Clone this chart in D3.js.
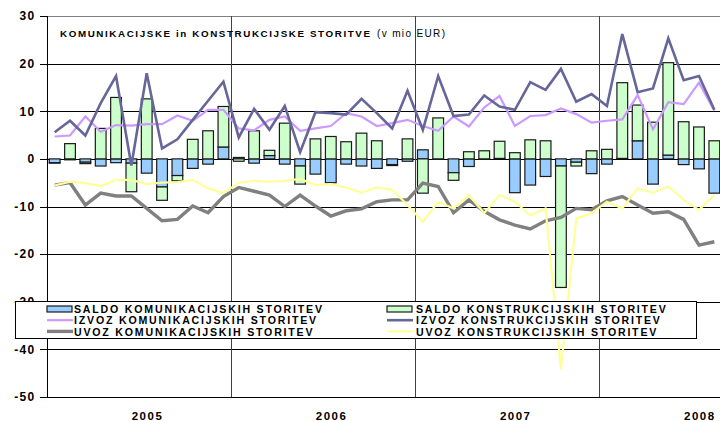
<!DOCTYPE html>
<html>
<head>
<meta charset="utf-8">
<script src="https://cdn.jsdelivr.net/npm/d3@7"></script>
<style>
  body { margin: 0; background: #fff; }
  svg { display: block; font-family: "Liberation Sans", Arial, sans-serif; }
</style>
</head>
<body>
<svg width="720" height="421"></svg>
<script>
var months = [
  "2005-01","2005-02","2005-03","2005-04","2005-05","2005-06","2005-07","2005-08","2005-09","2005-10","2005-11","2005-12",
  "2006-01","2006-02","2006-03","2006-04","2006-05","2006-06","2006-07","2006-08","2006-09","2006-10","2006-11","2006-12",
  "2007-01","2007-02","2007-03","2007-04","2007-05","2007-06","2007-07","2007-08","2007-09","2007-10","2007-11","2007-12",
  "2008-01","2008-02","2008-03","2008-04","2008-05","2008-06","2008-07","2008-08"
];
var years = ["2005", "2006", "2007", "2008"];
var yTicks = [30, 20, 10, 0, -10, -20, -30, -40, -50];

// saldo (bars)
var saldoKom = [-0.8, -0.2, -0.7, -1.5, -0.8, -0.9, -3.0, -5.9, -3.5, -2.0, -1.1, 2.5,
  0.3, -0.9, 0.7, -1.1, -1.5, -3.2, -5.0, -1.1, -1.5, -2.0, -1.2, -0.5,
  1.9, -0.1, -2.9, -1.6, -0.1, 0.1, -7.1, -5.5, -3.7, -1.5, -0.7, -3.1,
  -1.1, 0.1, 3.8, -5.3, 0.8, -1.2, -2.1, -7.2];
var saldoKonst = [-0.1, 3.2, -0.3, 6.4, 12.9, -6.0, 12.6, -2.8, -1.1, 4.1, 5.9, 8.5,
  -0.5, 5.9, 1.1, 7.5, -3.8, 4.2, 4.7, 3.6, 5.4, 3.8, -0.2, 4.2,
  -7.2, 8.6, -1.6, 1.5, 1.7, 3.6, 1.3, 4.0, 3.8, -25.5, -0.8, 1.7,
  2.0, 15.9, 7.5, 7.7, 19.4, 7.8, 6.7, 3.8];

// izvoz / uvoz (lines)
var izvozKom = [4.7, 4.9, 8.9, 5.7, 7.1, 7.0, 7.3, 7.3, 9.1, 8.0, 10.3, 10.3,
  6.4, 6.0, 8.2, 8.9, 5.9, 6.4, 6.9, 9.6, 8.9, 6.9, 7.5, 8.2,
  6.9, 5.9, 8.9, 6.8, 10.8, 13.2, 6.9, 9.0, 9.2, 10.6, 9.4, 7.6,
  8.0, 8.3, 13.4, 6.2, 11.9, 11.5, 16.0, 10.1];
var izvozKonst = [5.6, 8.0, 4.9, 11.7, 17.4, -1.4, 18.0, 2.2, 4.1, 8.2, 12.2, 16.2,
  4.5, 10.5, 6.1, 11.1, 1.4, 9.8, 9.6, 9.3, 12.6, 9.6, 6.4, 14.3,
  6.1, 17.4, 9.0, 9.3, 13.3, 11.0, 10.3, 16.1, 14.5, 18.9, 12.0, 13.6,
  11.1, 26.2, 14.0, 14.8, 25.3, 16.5, 17.4, 10.3];
var uvozKom = [-5.5, -5.0, -9.7, -7.2, -7.8, -7.8, -10.4, -13.0, -12.7, -9.9, -11.3, -7.9,
  -6.0, -6.8, -7.6, -10.0, -7.6, -9.9, -12.0, -10.9, -10.5, -9.0, -8.6, -8.6,
  -5.1, -5.8, -11.3, -8.6, -11.0, -12.8, -13.9, -14.7, -13.0, -12.3, -10.4, -10.7,
  -8.8, -7.9, -9.7, -11.4, -11.1, -12.7, -18.1, -17.4];
var uvozKonst = [-5.6, -4.8, -5.1, -5.7, -4.4, -4.4, -5.3, -5.0, -4.9, -4.4, -6.2, -7.2,
  -5.0, -4.6, -4.8, -4.6, -4.2, -5.5, -5.3, -6.0, -7.1, -6.0, -6.5, -9.7,
  -13.2, -9.0, -10.4, -7.6, -11.4, -7.6, -9.0, -11.9, -10.4, -44.2, -12.5, -11.4,
  -9.0, -10.4, -6.2, -7.1, -5.8, -8.6, -10.7, -7.6];

var svg = d3.select("svg"),
    plotLeft = 47, plotRight = 722, plotTop = 16, plotBottom = 397;

var x = d3.scaleBand()
    .domain(months)
    .range([plotLeft, plotRight])
    .paddingInner(0.3)
    .paddingOuter(0.15);

var y = d3.scaleLinear()
    .domain([-50, 30])
    .range([plotBottom, plotTop]);

var rows = months.map(function(m, i) {
    return {month: m, kom: saldoKom[i], konst: saldoKonst[i]};
});
var stacked = d3.stack()
    .keys(["kom", "konst"])
    .offset(d3.stackOffsetDiverging)(rows);

var barColors = {kom: "#99ccff", konst: "#ccffcc"};

// horizontal gridlines
svg.append("g")
    .selectAll("line")
    .data(yTicks.filter(function(d) { return d !== 30; }))
    .enter().append("line")
    .attr("x1", plotLeft)
    .attr("x2", 720)
    .attr("y1", function(d) { return Math.round(y(d)) + 0.5; })
    .attr("y2", function(d) { return Math.round(y(d)) + 0.5; })
    .attr("stroke", "#000")
    .attr("stroke-width", 1);

// top border
svg.append("line")
    .attr("x1", plotLeft).attr("x2", 720)
    .attr("y1", Math.round(y(30)) + 0.5).attr("y2", Math.round(y(30)) + 0.5)
    .attr("stroke", "#808080");

// year separators
svg.append("g")
    .selectAll("line")
    .data([12, 24, 36])
    .enter().append("line")
    .attr("x1", function(d) { return Math.round(x(months[d]) - x.step() * 0.15) + 0.5; })
    .attr("x2", function(d) { return Math.round(x(months[d]) - x.step() * 0.15) + 0.5; })
    .attr("y1", y(30))
    .attr("y2", y(-50))
    .attr("stroke", "#404040");

// bars
svg.append("g")
    .selectAll("g")
    .data(stacked)
    .enter().append("g")
    .attr("fill", function(d) { return barColors[d.key]; })
    .selectAll("rect")
    .data(function(d) { return d; })
    .enter().append("rect")
    .attr("x", function(d) { return x(d.data.month); })
    .attr("width", x.bandwidth())
    .attr("y", function(d) { return y(Math.max(d[0], d[1])); })
    .attr("height", function(d) { return Math.abs(y(d[0]) - y(d[1])); })
    .attr("stroke", "#1a1a1a")
    .attr("stroke-width", 1.2);

// lines
var lineSeries = [
    {values: izvozKom, color: "#cc99ff", width: 2.2},
    {values: izvozKonst, color: "#666699", width: 2.6},
    {values: uvozKom, color: "#808080", width: 3.4},
    {values: uvozKonst, color: "#ffff99", width: 2.2}
];
var line = d3.line()
    .x(function(d, i) { return x(months[i]) + x.bandwidth() / 2; })
    .y(function(d) { return y(d); });

svg.append("g")
    .selectAll("path")
    .data(lineSeries)
    .enter().append("path")
    .attr("d", function(d) { return line(d.values); })
    .attr("fill", "none")
    .attr("stroke", function(d) { return d.color; })
    .attr("stroke-width", function(d) { return d.width; })
    .attr("stroke-linejoin", "miter");

// y axis
svg.append("line")
    .attr("x1", plotLeft + 0.5).attr("x2", plotLeft + 0.5)
    .attr("y1", y(30)).attr("y2", y(-50))
    .attr("stroke", "#000");

var yAxis = svg.append("g");
yAxis.selectAll("line")
    .data(yTicks)
    .enter().append("line")
    .attr("x1", plotLeft - 7).attr("x2", plotLeft)
    .attr("y1", function(d) { return Math.round(y(d)) + 0.5; })
    .attr("y2", function(d) { return Math.round(y(d)) + 0.5; })
    .attr("stroke", "#000");
yAxis.selectAll("text")
    .data(yTicks)
    .enter().append("text")
    .attr("x", 35.5)
    .attr("y", function(d) { return y(d); })
    .attr("dy", "0.36em")
    .attr("text-anchor", "end")
    .attr("font-size", 12)
    .attr("font-weight", "bold")
    .attr("letter-spacing", 1.3)
    .text(function(d) { return d; });

// year labels
svg.append("g")
    .selectAll("text")
    .data(years)
    .enter().append("text")
    .attr("x", function(d, i) { return x(months[i * 12 + 6]) + x.bandwidth() / 2 + 0.8; })
    .attr("y", 420)
    .attr("text-anchor", "middle")
    .attr("font-size", 11.5)
    .attr("font-weight", "bold")
    .attr("letter-spacing", 1.5)
    .text(function(d) { return d; });

// title
svg.append("text")
    .attr("x", 60)
    .attr("y", 37)
    .attr("font-size", 9.8)
    .attr("font-weight", "bold")
    .attr("textLength", 310)
    .attr("lengthAdjust", "spacing")
    .text("KOMUNIKACIJSKE in KONSTRUKCIJSKE STORITVE");
svg.append("text")
    .attr("x", 377)
    .attr("y", 37)
    .attr("font-size", 10)
    .attr("textLength", 68)
    .attr("lengthAdjust", "spacing")
    .text("(v mio EUR)");

// legend
var legendItems = [
    {label: "SALDO KOMUNIKACIJSKIH STORITEV", type: "bar", color: "#99ccff", col: 0, row: 0},
    {label: "SALDO KONSTRUKCIJSKIH STORITEV", type: "bar", color: "#ccffcc", col: 1, row: 0},
    {label: "IZVOZ KOMUNIKACIJSKIH STORITEV", type: "line", color: "#cc99ff", w: 2.2, col: 0, row: 1},
    {label: "IZVOZ KONSTRUKCIJSKIH STORITEV", type: "line", color: "#666699", w: 2.6, col: 1, row: 1},
    {label: "UVOZ KOMUNIKACIJSKIH STORITEV", type: "line", color: "#808080", w: 3.4, col: 0, row: 2},
    {label: "UVOZ KONSTRUKCIJSKIH STORITEV", type: "line", color: "#ffff99", w: 2.2, col: 1, row: 2}
];
var legend = svg.append("g");
legend.append("rect")
    .attr("x", 15.5).attr("y", 301.5)
    .attr("width", 681).attr("height", 37)
    .attr("fill", "#fff")
    .attr("stroke", "#000");

var colX = [47, 387];
var item = legend.selectAll("g.item")
    .data(legendItems)
    .enter().append("g")
    .attr("class", "item")
    .attr("transform", function(d) { return "translate(" + colX[d.col] + "," + (309 + d.row * 11.2) + ")"; });

item.filter(function(d) { return d.type === "bar"; })
    .append("rect")
    .attr("x", 0).attr("y", -3)
    .attr("width", 25).attr("height", 6)
    .attr("fill", function(d) { return d.color; })
    .attr("stroke", "#1a1a1a")
    .attr("stroke-width", 1.2);
item.filter(function(d) { return d.type === "line"; })
    .append("line")
    .attr("x1", 0).attr("x2", 26)
    .attr("y1", 0).attr("y2", 0)
    .attr("stroke", function(d) { return d.color; })
    .attr("stroke-width", function(d) { return d.w; });
item.append("text")
    .attr("x", function(d) { return d.col === 0 ? 27 : 29; })
    .attr("y", 4.2)
    .attr("font-size", 10.6)
    .attr("font-weight", "bold")
    .attr("letter-spacing", 1.8)
    .text(function(d) { return d.label; });
</script>
</body>
</html>
